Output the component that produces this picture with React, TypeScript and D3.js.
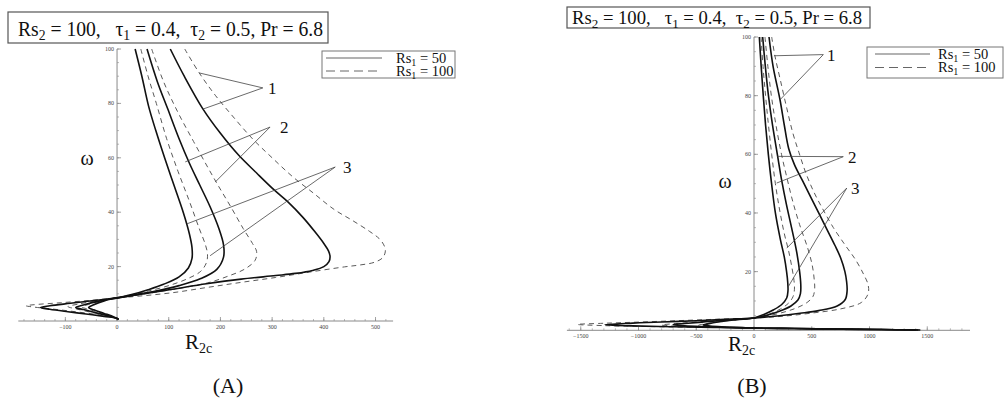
import React from "react";
import * as d3 from "d3";

type Pt = [number, number];

// ---- panel (A): [R2c, omega] ----
const aSolid3: Pt[] = [
  [35, 100], [48, 90], [61, 79], [75, 70], [92, 60], [110, 50], [128, 40], [140, 32], [145, 27],
  [145, 23], [138, 19.5], [120, 16.2], [90, 13.5], [60, 11.5], [30, 9.8], [0, 8.5],
  [-25, 7.4], [-45, 6], [-55, 5], [-45, 4.1], [-25, 2.8], [-6, 1.5], [3, 0.6],
];
const aDashed3: Pt[] = [
  [46, 100], [60, 90], [76, 80], [96, 67], [118, 55], [140, 44], [159, 34], [171, 28], [175, 24.5],
  [173, 21.5], [162, 18.3], [137, 15.6], [100, 13], [60, 11], [25, 9.5], [0, 8.5],
  [-30, 7.4], [-55, 6.1], [-68, 5.2], [-55, 4.3], [-30, 2.9], [-8, 1.6], [3, 0.6],
];
const aSolid2: Pt[] = [
  [58, 100], [78, 88], [98, 78], [120, 67], [140, 58], [160, 50], [180, 42], [197, 34], [206, 28],
  [206, 23.5], [193, 19], [162, 15.6], [120, 13], [75, 11], [35, 9.6], [0, 8.5],
  [-35, 7.3], [-65, 5.9], [-80, 5], [-65, 4.2], [-38, 2.9], [-10, 1.6], [3, 0.6],
];
const aDashed2: Pt[] = [
  [67, 100], [90, 88], [117, 77], [148, 66], [174, 57], [195, 50], [220, 42], [244, 34], [262, 28.5],
  [270, 25.5], [267, 22.3], [248, 19.2], [215, 16.5], [175, 14], [120, 12], [65, 10.3], [25, 9.2], [0, 8.5],
  [-40, 7.4], [-75, 6.2], [-95, 5.3], [-78, 4.4], [-45, 3], [-12, 1.7], [3, 0.6],
];
const aSolid1: Pt[] = [
  [103, 100], [130, 90], [166, 78], [200, 69], [235, 61], [270, 54.4], [305, 48], [331, 43.7],
  [360, 38], [384, 32.5], [400, 28.5], [409, 25.8], [412, 23.8], [410, 21.8], [400, 20], [378, 18.6],
  [345, 17.5], [307, 16.7], [240, 15.4], [173, 13.7], [107, 11.7], [40, 9.7], [0, 8.5],
  [-40, 7.6], [-90, 6.5], [-130, 5.6], [-148, 5], [-130, 4.3], [-95, 3.4], [-60, 2.6], [-25, 1.7], [0, 1], [3, 0.6],
];
const aDashed1: Pt[] = [
  [131, 100], [159, 91.2], [190, 83], [225, 75], [262, 67], [300, 60], [340, 53], [380, 47],
  [420, 41], [455, 37], [488, 33], [507, 30.3], [516, 28], [519, 25.7], [514, 23.3], [498, 21.6],
  [470, 20.6], [440, 19.9], [373, 18], [307, 16], [240, 14.2], [173, 12.3], [107, 10.4], [40, 9.1], [0, 8.5],
  [-50, 7.6], [-110, 6.7], [-160, 6], [-176, 5.6], [-160, 5.1], [-120, 4.3], [-80, 3.4], [-40, 2.4], [-10, 1.4], [3, 0.6],
];

// ---- panel (B) ----
const bSolid3: Pt[] = [
  [46, 100], [62, 90], [80, 80], [100, 70], [124, 60], [152, 50], [185, 40], [228, 31], [262, 25],
  [282, 20], [292, 16.3], [294, 13.5], [283, 11], [240, 8.8], [170, 7], [85, 5.4], [0, 4.2],
  [-150, 3.6], [-300, 2.9], [-400, 2.2], [-440, 1.8], [-380, 1.45], [-250, 1.15], [-100, 0.9], [0, 0.75],
  [350, 0.6], [750, 0.4], [1100, 0.25], [1400, 0.1],
];
const bDashed3: Pt[] = [
  [61, 100], [78, 90], [100, 80], [125, 70], [153, 60], [185, 50], [222, 41], [262, 33], [300, 27],
  [330, 21], [346, 17], [350, 14], [338, 11.5], [300, 9.3], [230, 7.3], [130, 5.5], [0, 4.2],
  [-160, 3.6], [-320, 2.8], [-440, 2.1], [-480, 1.7], [-400, 1.35], [-260, 1.1], [-100, 0.9], [0, 0.75],
  [350, 0.6], [750, 0.4], [1100, 0.25], [1410, 0.1],
];
const bSolid2: Pt[] = [
  [75, 100], [98, 90], [125, 80], [160, 70], [202, 60], [240, 51], [280, 43], [325, 35], [368, 27],
  [395, 20], [405, 15.5], [402, 12.5], [380, 10.3], [320, 8.3], [220, 6.5], [100, 5], [0, 4.2],
  [-200, 3.6], [-420, 2.9], [-600, 2.3], [-700, 1.9], [-600, 1.5], [-400, 1.2], [-150, 0.9], [0, 0.75],
  [350, 0.6], [750, 0.4], [1100, 0.25], [1420, 0.1],
];
const bDashed2: Pt[] = [
  [95, 100], [120, 90], [150, 80], [190, 70], [238, 60], [285, 52], [335, 44], [395, 36], [465, 28],
  [505, 22], [522, 17], [525, 14], [510, 11.5], [460, 9.5], [360, 7.5], [200, 5.6], [0, 4.2],
  [-220, 3.6], [-480, 2.9], [-680, 2.3], [-800, 1.8], [-680, 1.45], [-450, 1.15], [-180, 0.9], [0, 0.75],
  [350, 0.6], [750, 0.4], [1100, 0.25], [1430, 0.1],
];
const bSolid1: Pt[] = [
  [130, 100], [165, 90], [225, 78.6], [262, 70], [300, 62], [350, 56.5], [420, 51], [490, 45.5],
  [560, 40], [630, 34.5], [700, 29], [752, 24.5], [787, 20], [802, 16.5], [806, 13.5], [790, 10.5], [720, 8.3],
  [560, 6.7], [398, 5.8], [200, 4.9], [0, 4.2],
  [-250, 3.75], [-500, 3.25], [-800, 2.85], [-1050, 2.45], [-1290, 1.9], [-1050, 1.5], [-700, 1.2],
  [-350, 1], [-100, 0.8], [0, 0.75], [350, 0.6], [750, 0.4], [1100, 0.25], [1440, 0.1],
];
const bDashed1: Pt[] = [
  [153, 100], [182, 93.4], [230, 85], [285, 75.5], [338, 67], [390, 60.5], [450, 53.5], [520, 47],
  [600, 41], [687, 35], [790, 29], [880, 24], [950, 19], [988, 15.5], [988, 12.5], [930, 9.5],
  [750, 7.3], [485, 5.8], [250, 4.8], [0, 4.2],
  [-300, 3.8], [-650, 3.3], [-1000, 2.8], [-1300, 2.4], [-1530, 2], [-1300, 1.6], [-950, 1.3],
  [-550, 1.05], [-200, 0.9], [0, 0.75], [350, 0.6], [750, 0.4], [1100, 0.25], [1440, 0.1],
];

const aTicksX = [-100, 0, 100, 200, 300, 400, 500];
const bTicksX = [-1500, -1000, -500, 0, 500, 1000, 1500];
const ticksY = [20, 40, 60, 80, 100];
const legendValues = ["50", "100"];

// leader lines: label, hub, two ends (data units)
const aLeaders = [
  { label: "1", text: [292, 85.7], hub: [282, 85.7], ends: [[159, 91.2], [166, 77.9]] },
  { label: "2", text: [315, 71.3], hub: [296, 71.3], ends: [[132, 58.5], [190, 51.1]] },
  { label: "3", text: [437, 56.6], hub: [422, 56.6], ends: [[135, 35.7], [180, 24]] },
];
const bLeaders = [
  { label: "1", text: [632, 94], hub: [600, 94], ends: [[173, 93.6], [225, 78.6]] },
  { label: "2", text: [814, 59.2], hub: [773, 59.2], ends: [[202, 59.3], [196, 50.2]] },
  { label: "3", text: [840, 48.5], hub: [803, 48.5], ends: [[283, 28], [297, 14.9]] },
];

const serif = "Liberation Serif, Times New Roman, serif";

function Panel({ cfg }: { cfg: any }) {
  const x = d3.scaleLinear().domain(cfg.xDomain).range(cfg.xRange);
  const y = d3.scaleLinear().domain([0, 100]).range(cfg.yRange);
  const line = d3
    .line<Pt>()
    .x((d) => x(d[0]))
    .y((d) => y(d[1]))
    .curve(d3.curveCatmullRom.alpha(0.5));
  const x0 = x(0);
  const y0 = y(0);
  const minorX = d3.range(cfg.minorX[0], cfg.minorX[1] + 1, cfg.minorX[2]);
  const minorY = d3.range(5, 101, 5);
  const axisCol = "#8a8a8a";
  const sub = cfg.title.fs * 0.7;

  return (
    <g>
      {/* axes */}
      <line x1={cfg.xRange[0]} x2={cfg.xRange[1]} y1={y0} y2={y0} stroke={axisCol} strokeWidth={1} />
      <line x1={x0} x2={x0} y1={y0} y2={y(100)} stroke={axisCol} strokeWidth={1} />
      {minorX.map((t: number) => (
        <line key={"mx" + t} x1={x(t)} x2={x(t)} y1={y0} y2={y0 - 2} stroke={axisCol} strokeWidth={0.6} />
      ))}
      {cfg.ticksX.map((t: number) => (
        <g key={"tx" + t}>
          <line x1={x(t)} x2={x(t)} y1={y0} y2={y0 - 4} stroke={axisCol} strokeWidth={0.8} />
          <text x={x(t)} y={y0 + 7.5} fontSize={6} textAnchor="middle" fill="#444" fontFamily={serif}>
            {t < 0 ? "\u2212" + Math.abs(t) : t}
          </text>
        </g>
      ))}
      {minorY.map((t) => (
        <line key={"my" + t} x1={x0} x2={x0 + 2} y1={y(t)} y2={y(t)} stroke={axisCol} strokeWidth={0.6} />
      ))}
      {ticksY.map((t) => (
        <g key={"ty" + t}>
          <line x1={x0} x2={x0 + 4} y1={y(t)} y2={y(t)} stroke={axisCol} strokeWidth={0.8} />
          <text x={x0 - 3} y={y(t) + 2} fontSize={6} textAnchor="end" fill="#444" fontFamily={serif}>
            {t}
          </text>
        </g>
      ))}

      {/* curves */}
      {cfg.dashed.map((c: Pt[], i: number) => (
        <path key={"d" + i} d={line(c) || ""} fill="none" stroke="#5a5a5a" strokeWidth={1} strokeDasharray="5,4" />
      ))}
      {cfg.solid.map((c: Pt[], i: number) => (
        <path key={"s" + i} d={line(c) || ""} fill="none" stroke="#111" strokeWidth={1.6} />
      ))}

      {/* leaders */}
      {cfg.leaders.map((l: any) => (
        <g key={"l" + l.label}>
          {l.ends.map((e: number[], j: number) => (
            <line key={j} x1={x(l.hub[0])} y1={y(l.hub[1])} x2={x(e[0])} y2={y(e[1])} stroke="#444" strokeWidth={0.8} />
          ))}
          <text x={x(l.text[0])} y={y(l.text[1])} dy="0.35em" fontSize={17} fontFamily={serif} fill="#111">
            {l.label}
          </text>
        </g>
      ))}

      {/* axis labels */}
      <text x={cfg.omegaPos[0]} y={cfg.omegaPos[1]} fontSize={20} textAnchor="middle" fontFamily={serif} fill="#111">
        ω
      </text>
      <text x={cfg.rPos[0]} y={cfg.rPos[1]} fontSize={21} fontFamily={serif} fill="#111">
        R<tspan fontSize={14} dy={4}>2c</tspan>
      </text>

      {/* title */}
      <rect x={cfg.title.x} y={cfg.title.y} width={cfg.title.w} height={cfg.title.h} fill="#fff" stroke="#555" strokeWidth={1.2} />
      <text
        x={cfg.title.x + cfg.title.pad}
        y={cfg.title.y + cfg.title.base}
        fontSize={cfg.title.fs}
        fontFamily={serif}
        fill="#111"
        xmlSpace="preserve"
        style={{ whiteSpace: "pre" }}
        textLength={cfg.title.len}
        lengthAdjust="spacingAndGlyphs"
      >
        Rs<tspan fontSize={sub} dy={4}>2</tspan>
        <tspan dy={-4}>{" = 100,   τ"}</tspan>
        <tspan fontSize={sub} dy={4}>1</tspan>
        <tspan dy={-4}>{" = 0.4,  τ"}</tspan>
        <tspan fontSize={sub} dy={4}>2</tspan>
        <tspan dy={-4}>{" = 0.5, Pr = 6.8"}</tspan>
      </text>

      {/* legend */}
      <rect x={cfg.legend.x} y={cfg.legend.y} width={cfg.legend.w} height={cfg.legend.h} fill="#fff" stroke="#777" strokeWidth={1} />
      {legendValues.map((v, i) => {
        const ly = cfg.legend.rows[i];
        return (
          <g key={"lg" + v}>
            <line
              x1={cfg.legend.x + cfg.legend.l0}
              x2={cfg.legend.x + cfg.legend.l1}
              y1={ly}
              y2={ly}
              stroke={i === 0 ? "#999" : "#666"}
              strokeWidth={i === 0 ? 1.4 : 1}
              strokeDasharray={i === 0 ? undefined : "9,5"}
            />
            <text x={cfg.legend.x + cfg.legend.tx} y={ly + 4.5} fontSize={cfg.legend.fs} fontFamily={serif} fill="#111">
              Rs<tspan fontSize={cfg.legend.fs * 0.7} dy={3}>1</tspan>
              <tspan dy={-3}>{" = " + v}</tspan>
            </text>
          </g>
        );
      })}

      {/* caption */}
      <text x={cfg.caption[0]} y={cfg.caption[1]} fontSize={22} textAnchor="middle" fontFamily={serif} fill="#111">
        {cfg.captionText}
      </text>
    </g>
  );
}

const panelA = {
  xDomain: [-191, 534],
  xRange: [18.3, 393.1],
  yRange: [321, 49],
  ticksX: aTicksX,
  minorX: [-180, 520, 20],
  solid: [aSolid3, aSolid2, aSolid1],
  dashed: [aDashed3, aDashed2, aDashed1],
  leaders: aLeaders,
  omegaPos: [87, 165],
  rPos: [185, 349],
  title: { x: 8, y: 12, w: 320, h: 31, pad: 10, base: 24, fs: 21, len: 305 },
  legend: { x: 322, y: 51, w: 133, h: 27, rows: [58, 71], l0: 4, l1: 60, tx: 74, fs: 14.5 },
  caption: [228, 393],
  captionText: "(A)",
};

const panelB = {
  xDomain: [-1620, 1870],
  xRange: [566.9, 970],
  yRange: [330.3, 37],
  ticksX: bTicksX,
  minorX: [-1600, 1800, 100],
  solid: [bSolid3, bSolid2, bSolid1],
  dashed: [bDashed3, bDashed2, bDashed1],
  leaders: bLeaders,
  omegaPos: [725, 188],
  rPos: [728, 351],
  title: { x: 567, y: 7, w: 303, h: 21, pad: 5, base: 17, fs: 19, len: 290 },
  legend: { x: 867, y: 47, w: 136, h: 31, rows: [54, 67.5], l0: 8, l1: 63, tx: 71, fs: 14.5 },
  caption: [752, 393],
  captionText: "(B)",
};

export default function App() {
  return (
    <svg width={1006} height={406} style={{ position: "absolute", left: 0, top: 0, background: "#fff" }}>
      <rect width={1006} height={406} fill="#fff" />
      <Panel cfg={panelA} />
      <Panel cfg={panelB} />
    </svg>
  );
}
